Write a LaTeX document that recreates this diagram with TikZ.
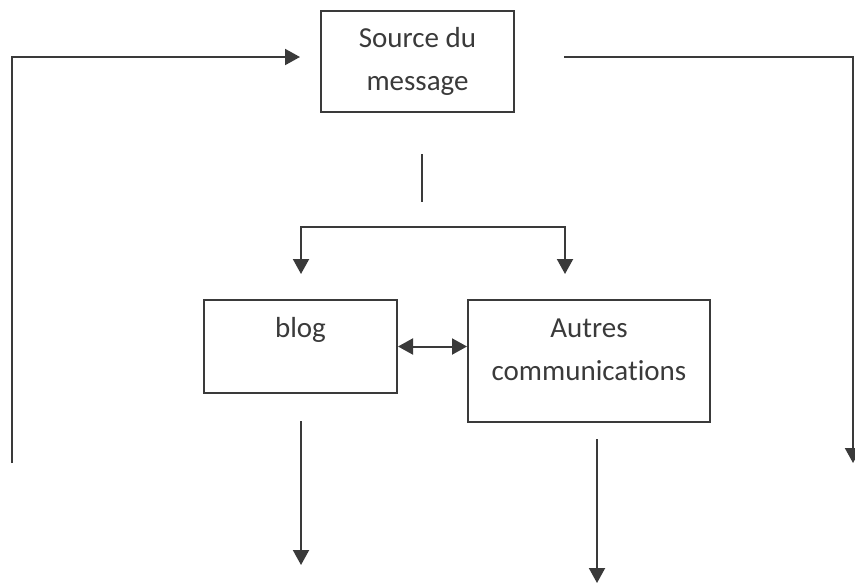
\documentclass[tikz,border=0pt]{standalone}
\usepackage{fontspec}
\setmainfont{Carlito}[Ligatures=NoCommon]
\usepackage{xcolor}
\usetikzlibrary{positioning,arrows.meta}
\definecolor{ink}{HTML}{3A3A3A}

\begin{document}
\begin{tikzpicture}[
		x=0.5pt, y=-0.5pt,
		line width=1pt,
		color=ink,
		box/.style={
			draw=ink,
			rectangle,
			inner sep=0pt
		},
		txt/.style={
			font=\fontsize{14.5}{21.5}\selectfont,
			text=ink,
			align=center,
			inner sep=0pt,
			anchor=base
		},
		conn/.style={-{Triangle[length=7.5pt,width=8pt]}},
		twoway/.style={{Triangle[length=7.5pt,width=8pt]}-{Triangle[length=7.5pt,width=8pt]}}
		]
		
		\useasboundingbox (0,0) rectangle (855,584);
		
		\node (src) [box, minimum width=96.5pt, minimum height=50.5pt] at (417.5,61.5) {};
		\node (blog) [box, minimum width=96.5pt, minimum height=46.5pt] at (300.5,346.5) {};
		\node (autres) [box, minimum width=121pt, minimum height=61pt] at (589,361) {};
		
		% base sits on the last line, so two-line texts go one line lower
		\node (srctxt) [txt] at ([yshift=-40pt]src.north) {Source du\\message};
		\node (blogtxt) [txt] at ([yshift=-19pt]blog.north) {blog};
		\node (autrestxt) [txt] at ([yshift=-40.5pt]autres.north) {Autres\\communications};
		
		\coordinate (lbot) at (12,463);
		\coordinate (ltop) at (300,57);
		\coordinate (rtop) at (564,57);
		\coordinate (rbot) at (853,463);
		\coordinate (stubtop) at (422,154);
		\coordinate (stubbot) at (422,202);
		\coordinate (splitl) at (301,274);
		\coordinate (splitr) at (565,274);
		\coordinate (blogout) at (301,421);
		\coordinate (blogend) at (301,565);
		\coordinate (autout) at (597,439);
		\coordinate (autend) at (597,583);
		
		\draw[conn] (lbot) |- (ltop);
		\draw[conn] (rtop) -| (rbot);
		
		\draw (stubtop) -- (stubbot);
		\draw[twoway] (splitl) -- ++(0,-47) -| (splitr);
		
		\draw[twoway] (blog.east) -- (blog.east -| autres.west);
		
		\draw[conn] (blogout) -- (blogend);
		\draw[conn] (autout) -- (autend);
		
	\end{tikzpicture}
\end{document}
